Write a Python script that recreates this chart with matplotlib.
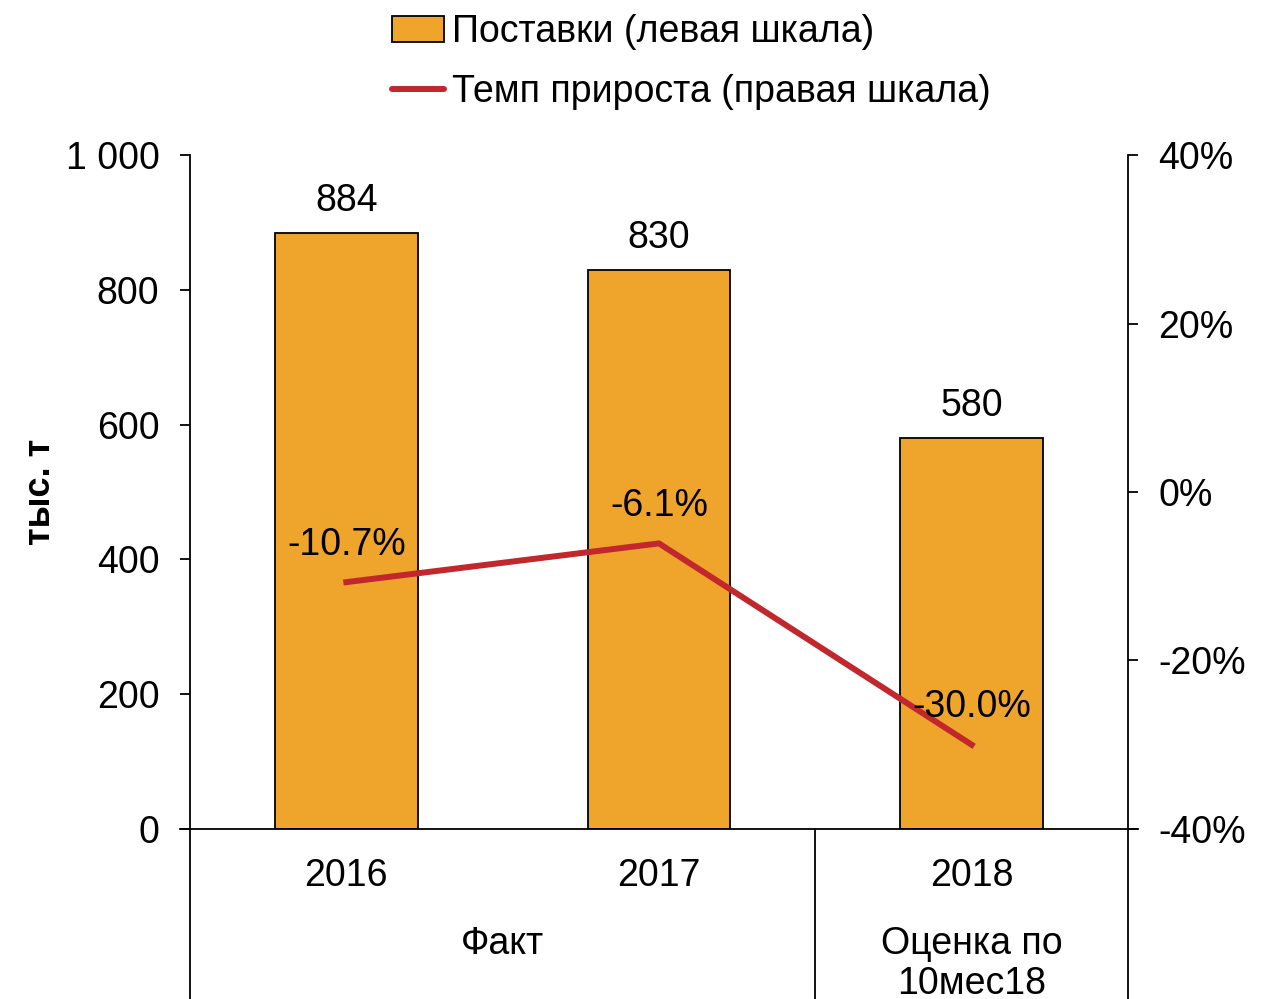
import matplotlib.pyplot as plt
import matplotlib.transforms as mtransforms
from matplotlib.patches import Patch
from matplotlib.lines import Line2D

plt.rcParams['font.family'] = ['Liberation Sans', 'DejaVu Sans']

# данные
years = ['2016', '2017', '2018']
postavki = [884, 830, 580]
temp = [-10.7, -6.1, -30.0]
groups = ['Факт', 'Оценка по\n10мес18']
group_pos = [0.5, 2]

bar_color = '#EFA52B'
line_color = '#C1272D'
fs = 27

fig = plt.figure(figsize=(12.74, 9.99), dpi=100)
ax = fig.add_axes([0.1491, 0.1702, 0.7363, 0.6746])
x = list(range(len(years)))

ax.bar(x, postavki, width=0.457, color=bar_color, edgecolor='black', linewidth=1.3, zorder=2)
ax.set_xlim(-0.5, 2.5)
ax.set_ylim(0, 1000)
ax.set_yticks([0, 200, 400, 600, 800, 1000])
ax.set_yticklabels(['0', '200', '400', '600', '800', '1 000'])
ax.tick_params(axis='y', labelsize=fs, length=7, width=1.3, pad=15)
ax.set_xticks([])
for s in ['top', 'bottom', 'right']:
    ax.spines[s].set_visible(False)
ax.spines['left'].set_linewidth(1.3)

for xi, v in zip(x, postavki):
    ax.annotate(str(v), (xi, v), xytext=(0, 23), textcoords='offset points',
                ha='center', va='center', fontsize=fs)

# правая шкала
ax2 = ax.twinx()
ax2.plot(x, temp, color=line_color, linewidth=4.3, zorder=3)
ax2.set_ylim(-40, 40)
ax2.set_yticks([-40, -20, 0, 20, 40])
ax2.set_yticklabels(['-40%', '-20%', '0%', '20%', '40%'])
ax2.tick_params(axis='y', labelsize=fs, length=7, width=1.3, pad=15)
for s in ['top', 'bottom', 'left']:
    ax2.spines[s].set_visible(False)
ax2.spines['right'].set_linewidth(1.3)
ax2.set_xlim(-0.5, 2.5)

for xi, v in zip(x, temp):
    ax2.annotate(f'{v:.1f}%', (xi, v), xytext=(0, 27), textcoords='offset points',
                 ha='center', va='center', fontsize=fs)

# ось X и разделители групп
ax.axhline(0, xmin=-0.011, xmax=1.011, color='black', linewidth=1.3, clip_on=False, zorder=4)
trans = mtransforms.blended_transform_factory(ax.transData, ax.transAxes)
for xs in [-0.5, 1.5, 2.5]:
    ax.plot([xs, xs], [0, -0.27], transform=trans, color='black', linewidth=1.3, clip_on=False)

for xi, y in zip(x, years):
    ax.text(xi, -0.07, y, transform=trans, ha='center', va='center', fontsize=fs)
ax.text(group_pos[0], -0.17, groups[0], transform=trans, ha='center', va='center', fontsize=fs)
ax.text(group_pos[1], -0.2, groups[1], transform=trans, ha='center', va='center',
        fontsize=fs, linespacing=1.15)

fig.text(40 / 1274, 1 - 492 / 999, 'тыс. т', rotation=90, ha='center', va='center',
         fontsize=26, fontweight='bold')

handles = [Patch(facecolor=bar_color, edgecolor='black', linewidth=1.3),
           Line2D([0], [0], color=line_color, linewidth=4.3, solid_capstyle='round')]
fig.legend(handles, ['Поставки (левая шкала)', 'Темп прироста (правая шкала)'],
           loc='upper left', bbox_to_anchor=(358 / 1274, 1.02), frameon=False,
           fontsize=fs, handlelength=1.4, handletextpad=0.2, labelspacing=0.65)

plt.savefig('out.png', dpi=100)
